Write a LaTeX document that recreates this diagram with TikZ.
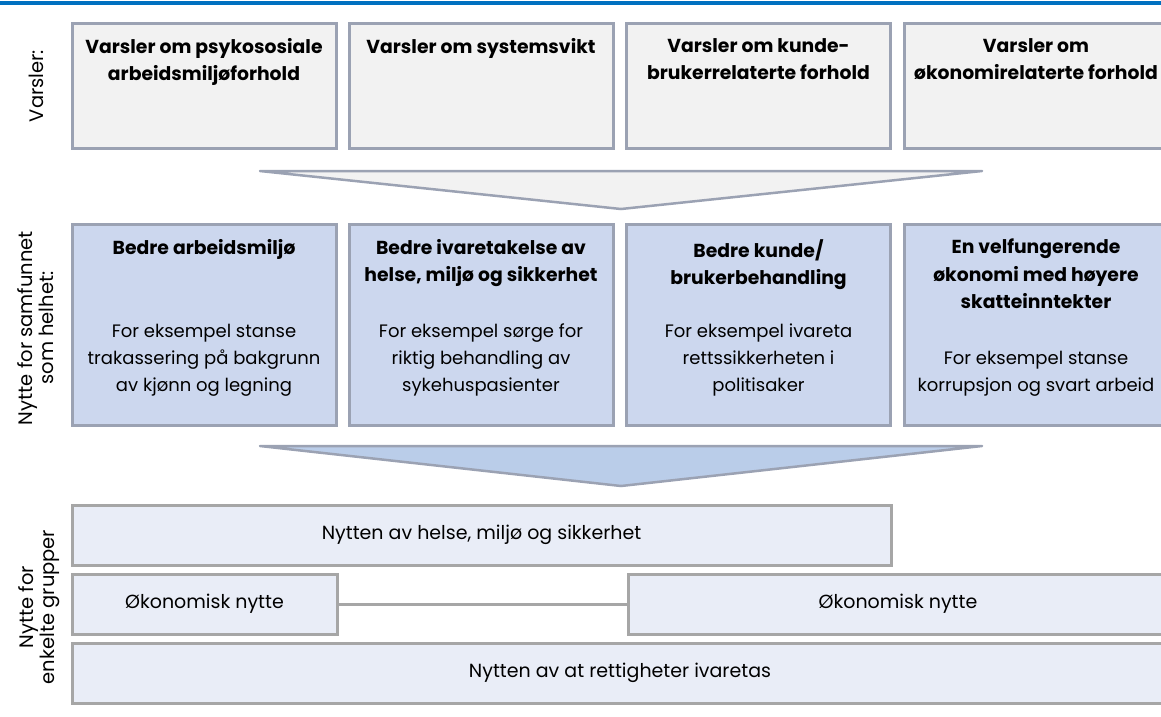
\documentclass[tikz,border=0pt]{standalone}
\usepackage{fontspec}
\setmainfont{Poppins}
\definecolor{topblue}{HTML}{0070C0}
\definecolor{bluegray}{HTML}{9BA2B3}
\definecolor{midgray}{HTML}{A6A6A6}
\definecolor{lightfill}{HTML}{F2F2F2}
\definecolor{midfill}{HTML}{CCD7EE}
\definecolor{arrowfill}{HTML}{BACDE9}
\definecolor{lowfill}{HTML}{E9EDF7}
\tikzset{
  topbox/.style={draw=bluegray, line width=3pt, fill=lightfill, minimum width=264pt, minimum height=125pt, inner sep=0pt},
  midbox/.style={draw=bluegray, line width=3pt, fill=midfill, minimum width=264pt, minimum height=201pt, inner sep=0pt},
  lowbox/.style={draw=midgray, line width=3pt, fill=lowfill, minimum height=60pt, inner sep=0pt, font=\fontsize{19}{22}\selectfont},
  titletxt/.style={anchor=north, align=center, inner sep=0pt, font=\fontsize{18.8}{27.5}\selectfont\bfseries},
  bodytxt/.style={anchor=south, align=center, inner sep=0pt, font=\fontsize{18}{27}\selectfont},
  sidelabel/.style={rotate=90, align=center, inner sep=0pt, font=\fontsize{19.5}{21}\selectfont},
  tri/.style={draw=bluegray, line width=2.5pt, line join=round}
}
\begin{document}
\begin{tikzpicture}[x=1pt,y=-1pt]
\useasboundingbox (0,0) rectangle (1161,716);
\fill[topblue] (0,0.5) rectangle (1161,5);
% side labels
\node[sidelabel] (l1) at (36,86) {Varsler:};
\node[sidelabel] (l2) at (36,328) {Nytte for samfunnet\\som helhet:};
\node[sidelabel] (l3) at (39,607) {Nytte for\\enkelte grupper};
% top row
\node[topbox] (v1) at (204,85.5) {};
\node[topbox] (v2) at (481,85.5) {};
\node[topbox] (v3) at (758.5,85.5) {};
\node[topbox] (v4) at (1036,85.5) {};
\node[titletxt] (vt1) at (204,38) {Varsler om psykososiale\\arbeidsmiljøforhold};
\node[titletxt] (vt2) at (481,38) {Varsler om systemsvikt};
\node[titletxt] (vt3) at (758.5,38) {Varsler om kunde-\\brukerrelaterte forhold};
\node[titletxt] (vt4) at (1036,38) {Varsler om\\økonomirelaterte forhold};
% arrow 1
\draw[tri, fill=lightfill] (260,171) -- (982,171) -- (621,209) -- cycle;
% middle row
\node[midbox] (m1) at (204,324.5) {};
\node[midbox] (m2) at (481,324.5) {};
\node[midbox] (m3) at (758.5,324.5) {};
\node[midbox] (m4) at (1036,324.5) {};
\node[titletxt] (mt1) at (204,239) {Bedre arbeidsmiljø};
\node[titletxt] (mt2) at (481,239) {Bedre ivaretakelse av\\helse, miljø og sikkerhet};
\node[titletxt] (mt3) at (758.5,239) {Bedre kunde/\\brukerbehandling};
\node[titletxt] (mt4) at (1036,239) {En velfungerende\\økonomi med høyere\\skatteinntekter};
\node[bodytxt] (mb1) at (204,396.5) {For eksempel stanse\\trakassering på bakgrunn\\av kjønn og legning};
\node[bodytxt] (mb2) at (481,396.5) {For eksempel sørge for\\riktig behandling av\\sykehuspasienter};
\node[bodytxt] (mb3) at (758.5,396.5) {For eksempel ivareta\\rettssikkerheten i\\politisaker};
\node[bodytxt] (mb4) at (1036,396.5) {For eksempel stanse\\korrupsjon og svart arbeid};
% arrow 2
\draw[tri, fill=arrowfill] (260,446) -- (982,446) -- (621,486) -- cycle;
% bottom rows
\node[lowbox, minimum width=819pt] (n1) at (481.5,535) {Nytten av helse, miljø og sikkerhet};
\node[lowbox, minimum width=265pt] (o1) at (204.5,604) {Økonomisk nytte};
\node[lowbox, minimum width=540pt] (o2) at (898,604) {Økonomisk nytte};
\draw[draw=midgray, line width=3pt] (o1.east) -- (o2.west);
\node[lowbox, minimum width=1096pt] (n3) at (620,673) {Nytten av at rettigheter ivaretas};
\end{tikzpicture}
\end{document}
